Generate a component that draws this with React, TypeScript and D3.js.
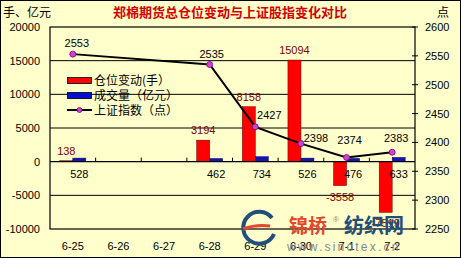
import React from 'react';
import * as d3 from 'd3';

const categories = ['6-25', '6-26', '6-27', '6-28', '6-29', '6-30', '7-1', '7-2'];
const positionChange: (number | null)[] = [138, null, null, 3194, 8158, 15094, -3558, -7519];
const volume: (number | null)[] = [528, null, null, 462, 734, 526, 476, 633];
const shIndex: (number | null)[] = [2553, null, null, 2535, 2427, 2398, 2374, 2383];
const leftTicks = [20000, 15000, 10000, 5000, 0, -5000, -10000];
const rightTicks = [2600, 2550, 2500, 2450, 2400, 2350, 2300, 2250];
const seriesNames = ['仓位变动(手）', '成交量（亿元）', '上证指数（点）'];
const titleText = '郑棉期货总仓位变动与上证股指变化对比';

// label layout offsets for index labels (dx, dy relative to point)
const indexLabelOffsets: [number, number][] = [
  [4, -11], [0, 0], [0, 0], [2, -11], [14, -12], [15, -6], [3, -17], [4, -14],
];

const W = 461;
const H = 258;
const PL = 50, PR = 415, PT = 27, PB = 229;
const BG = '#FFFFCC';
const NUM_FONT = '"Liberation Sans", Arial, sans-serif';
const CJK_FONT = '"Noto Sans CJK SC", "Noto Sans", sans-serif';

export default function App() {
  const x = d3.scaleBand<string>().domain(categories).range([PL, PR]).paddingInner(0.43).paddingOuter(0.215);
  const x1 = d3.scaleBand<string>().domain(['pos', 'vol']).range([0, x.bandwidth()]);
  const yL = d3.scaleLinear().domain([-10000, 20000]).range([PB, PT]);
  const yR = d3.scaleLinear().domain([2250, 2600]).range([PB, PT]);
  const y0 = yL(0);

  const linePts = categories
    .map((c, i) => ({ c, i, v: shIndex[i] }))
    .filter((d) => d.v != null) as { c: string; i: number; v: number }[];
  const lineGen = d3
    .line<{ c: string; i: number; v: number }>()
    .x((d) => (x(d.c) as number) + x.bandwidth() / 2)
    .y((d) => yR(d.v));

  const gridVals = leftTicks.filter((v) => v !== 0 && v !== 20000 && v !== -10000);

  return (
    <svg width={W} height={H} style={{ position: 'absolute', left: 0, top: 0 }}>
      <rect x={0.5} y={0.5} width={W - 1} height={H - 1} fill={BG} stroke="#000" />
      {/* titles */}
      <text x={230} y={17} textAnchor="middle" fontFamily={CJK_FONT} fontWeight="bold" fontSize={13} fill="#d40000">
        {titleText}
      </text>
      <text x={3} y={17} fontFamily={CJK_FONT} fontSize={12} fill="#000">手、亿元</text>
      <text x={437} y={17} fontFamily={CJK_FONT} fontSize={12} fill="#000">点</text>

      {/* plot area */}
      <rect x={PL} y={PT} width={PR - PL} height={PB - PT} fill={BG} stroke="#000" strokeWidth={1.2} />
      {gridVals.map((v) => (
        <line key={v} x1={PL} x2={PR} y1={yL(v)} y2={yL(v)} stroke="#000" strokeWidth={1} />
      ))}
      {/* left axis labels */}
      {leftTicks.map((v) => (
        <text key={v} x={40} y={yL(v) + 4} textAnchor="end" fontFamily={NUM_FONT} fontSize={11} fill="#000">
          {v}
        </text>
      ))}
      {/* right axis */}
      {rightTicks.map((v) => (
        <g key={v}>
          <line x1={PR - 3} x2={PR + 3} y1={yR(v)} y2={yR(v)} stroke="#000" />
          <text x={425} y={yR(v) + 4} fontFamily={NUM_FONT} fontSize={11} fill="#000">
            {v}
          </text>
        </g>
      ))}

      {/* bars */}
      {categories.map((c, i) => {
        const bx = x(c) as number;
        const p = positionChange[i];
        const v = volume[i];
        return (
          <g key={c}>
            {p != null && (
              <rect
                x={bx + (x1('pos') as number)}
                y={Math.min(yL(p), y0)}
                width={x1.bandwidth()}
                height={Math.max(Math.abs(yL(p) - y0), 0.8)}
                fill="#ff0000"
                stroke="#600000"
                strokeWidth={0.5}
              />
            )}
            {v != null && (
              <rect
                x={bx + (x1('vol') as number)}
                y={Math.min(yL(v), y0)}
                width={x1.bandwidth()}
                height={Math.abs(yL(v) - y0)}
                fill="#1414b4"
                stroke="#000050"
                strokeWidth={0.5}
              />
            )}
          </g>
        );
      })}

      {/* zero axis */}
      <line x1={PL} x2={PR} y1={y0} y2={y0} stroke="#000" strokeWidth={1.2} />
      {categories.map((c, i) =>
        i === 0 ? null : (
          <line key={c} x1={(x(c) as number) - (x.step() - x.bandwidth()) / 2} x2={(x(c) as number) - (x.step() - x.bandwidth()) / 2} y1={y0 - 4} y2={y0} stroke="#000" />
        )
      )}

      {/* category labels */}
      {categories.map((c) => (
        <text key={c} x={(x(c) as number) + x.bandwidth() / 2} y={250} textAnchor="middle" fontFamily={NUM_FONT} fontSize={11} fill="#000">
          {c}
        </text>
      ))}

      {/* line */}
      <path d={lineGen(linePts) || ''} fill="none" stroke="#000" strokeWidth={2} />
      {linePts.map((d) => (
        <circle key={d.c} cx={(x(d.c) as number) + x.bandwidth() / 2} cy={yR(d.v)} r={3} fill="#cc44cc" stroke="#800080" strokeWidth={0.8} />
      ))}

      {/* value labels */}
      {categories.map((c, i) => {
        const bx = x(c) as number;
        const p = positionChange[i];
        const v = volume[i];
        const s = shIndex[i];
        const cxPos = bx + (x1('pos') as number) + x1.bandwidth() / 2;
        const cxVol = bx + (x1('vol') as number) + x1.bandwidth() / 2;
        return (
          <g key={c}>
            {p != null && (
              <text
                x={cxPos}
                y={p >= 0 ? yL(p) - 6 : yL(p) + 15}
                textAnchor="middle"
                fontFamily={NUM_FONT}
                fontSize={11}
                fill="#800000"
              >
                {p}
              </text>
            )}
            {v != null && (
              <text x={cxVol} y={y0 + 16} textAnchor="middle" fontFamily={NUM_FONT} fontSize={11} fill="#000">
                {v}
              </text>
            )}
            {s != null && (
              <text
                x={bx + x.bandwidth() / 2 + indexLabelOffsets[i][0]}
                y={yR(s) + indexLabelOffsets[i][1] + 4}
                textAnchor="middle"
                fontFamily={NUM_FONT}
                fontSize={11}
                fill="#000"
              >
                {s}
              </text>
            )}
          </g>
        );
      })}

      {/* legend */}
      <g>
        <rect x={67.5} y={77.5} width={24} height={6} fill="#ff0000" stroke="#000" strokeWidth={0.8} />
        <text x={94} y={85} fontFamily={CJK_FONT} fontSize={12} fill="#000">{seriesNames[0]}</text>
        <rect x={67.5} y={92.5} width={24} height={6} fill="#0010d0" stroke="#000" strokeWidth={0.8} />
        <text x={94} y={100} fontFamily={CJK_FONT} fontSize={12} fill="#000">{seriesNames[1]}</text>
        <line x1={67} x2={92} y1={110} y2={110} stroke="#000" strokeWidth={2} />
        <circle cx={79.5} cy={110} r={2.5} fill="#cc44cc" stroke="#800080" strokeWidth={0.8} />
        <text x={94} y={115} fontFamily={CJK_FONT} fontSize={12} fill="#000">{seriesNames[2]}</text>
      </g>

      {/* watermark */}
      <g>
        <path d="M 272 218 A 16 16 0 1 0 274 234" fill="none" stroke="#1f4f7a" strokeWidth={4} />
        <path d="M 243 229 Q 256 224 270 226" fill="none" stroke="#e8452c" strokeWidth={3} />
        <text x={289} y={233} fontFamily={CJK_FONT} fontWeight="bold" fontSize={19} fill="#e8452c">锦桥</text>
        <text x={333} y={222} fontFamily={NUM_FONT} fontSize={8} fill="#888">®</text>
        <text x={344} y={233} fontFamily={CJK_FONT} fontWeight="bold" fontSize={20} fill="#1f4f7a">纺织网</text>
        <text x={287} y={251} fontFamily={NUM_FONT} fontSize={12} letterSpacing={2.2} fill="#7a8a99">www.sinotex.cn</text>
      </g>
    </svg>
  );
}
